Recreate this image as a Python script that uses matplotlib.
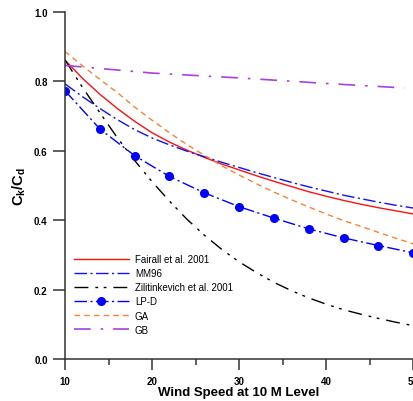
import matplotlib
matplotlib.use('Agg')
import matplotlib.pyplot as plt
from matplotlib.ticker import MultipleLocator

plt.rcParams['font.family'] = ['Liberation Sans', 'DejaVu Sans']

# wind speed grid for the smooth curves
wind = [10, 12, 14, 16, 18, 20, 22, 24, 26, 28, 30, 32, 34, 36, 38, 40, 42, 44, 46, 48, 50]

fairall = [0.861, 0.809, 0.763, 0.722, 0.685, 0.652, 0.625, 0.602, 0.581, 0.562, 0.545,
           0.528, 0.512, 0.497, 0.482, 0.469, 0.457, 0.446, 0.436, 0.427, 0.418]
mm96 = [0.793, 0.756, 0.722, 0.69, 0.661, 0.637, 0.617, 0.599, 0.583, 0.567, 0.552,
        0.537, 0.523, 0.509, 0.496, 0.484, 0.472, 0.462, 0.452, 0.443, 0.435]
zilitinkevich = [0.862, 0.783, 0.71, 0.638, 0.572, 0.511, 0.455, 0.403, 0.357, 0.316, 0.28,
                 0.249, 0.221, 0.197, 0.176, 0.158, 0.142, 0.129, 0.117, 0.106, 0.096]
ga = [0.886, 0.845, 0.806, 0.768, 0.726, 0.688, 0.652, 0.618, 0.587, 0.557, 0.530,
      0.505, 0.481, 0.459, 0.438, 0.418, 0.399, 0.382, 0.365, 0.348, 0.332]

# LP-D is only given every 4 m/s (markers)
wind_lpd = [10, 14, 18, 22, 26, 30, 34, 38, 42, 46, 50]
lpd = [0.773, 0.663, 0.586, 0.526, 0.479, 0.439, 0.406, 0.375, 0.349, 0.327, 0.306]

wind_gb = [10, 20, 30, 40, 49]
gb = [0.846, 0.824, 0.81, 0.794, 0.781]

fig = plt.figure(figsize=(4.14, 4.02), dpi=100)
ax = fig.add_axes([0.157, 0.1045, 0.841, 0.8632])

ax.plot(wind, fairall, color='#ff1010', lw=1.0, label='Fairall et al. 2001')
ax.plot(wind, mm96, color='#1010ff', lw=1.0, linestyle=(0, (9, 2.5, 1.5, 2.5)), label='MM96')
ax.plot(wind, zilitinkevich, color='black', lw=1.0,
        linestyle=(0, (10, 5, 2, 4, 2, 5)), label='Zilitinkevich et al. 2001')
ax.plot(wind_lpd, lpd, color='#0000ff', lw=1.0, linestyle=(0, (9, 2.5, 1.5, 2.5)),
        marker='o', markersize=5.5, label='LP-D')
ax.plot(wind, ga, color='#ff8030', lw=1.0, linestyle=(0, (4, 3)), label='GA')
ax.plot(wind_gb, gb, color='#a840e0', lw=1.2, linestyle=(0, (10, 6, 1.5, 6)), label='GB')

ax.set_xlim(10, 50)
ax.set_ylim(0, 1.0)
ax.xaxis.set_major_locator(MultipleLocator(10))
ax.xaxis.set_minor_locator(MultipleLocator(5))
ax.yaxis.set_major_locator(MultipleLocator(0.2))
ax.yaxis.set_major_formatter(plt.FormatStrFormatter('%.1f'))

for s in ['top', 'right']:
    ax.spines[s].set_visible(False)
for s in ['left', 'bottom']:
    ax.spines[s].set_linewidth(1.1)
    ax.spines[s].set_color('#333333')

ax.tick_params(axis='x', which='major', direction='out', length=8, width=1.1,
               color='#333333', labelsize=7, pad=4)
ax.tick_params(axis='x', which='minor', direction='out', length=4, width=1.1, color='#333333')
ax.tick_params(axis='y', which='major', direction='out', length=8.5, width=1.1,
               color='#333333', labelsize=7, pad=4)
for lbl in ax.get_xticklabels() + ax.get_yticklabels():
    lbl.set_fontweight('bold')

ax.set_xlabel('Wind Speed at 10 M Level', fontsize=9.5, fontweight='bold', labelpad=0)
ax.set_ylabel(r'C$_\mathregular{k}$/C$_\mathregular{d}$', fontsize=10.5, fontweight='bold', labelpad=4)

leg = ax.legend(loc='lower left', bbox_to_anchor=(0.0, 0.045), frameon=False, fontsize=7,
                handlelength=5.7, labelspacing=0.42, handletextpad=0.6)

fig.savefig('out.png', dpi=100)
